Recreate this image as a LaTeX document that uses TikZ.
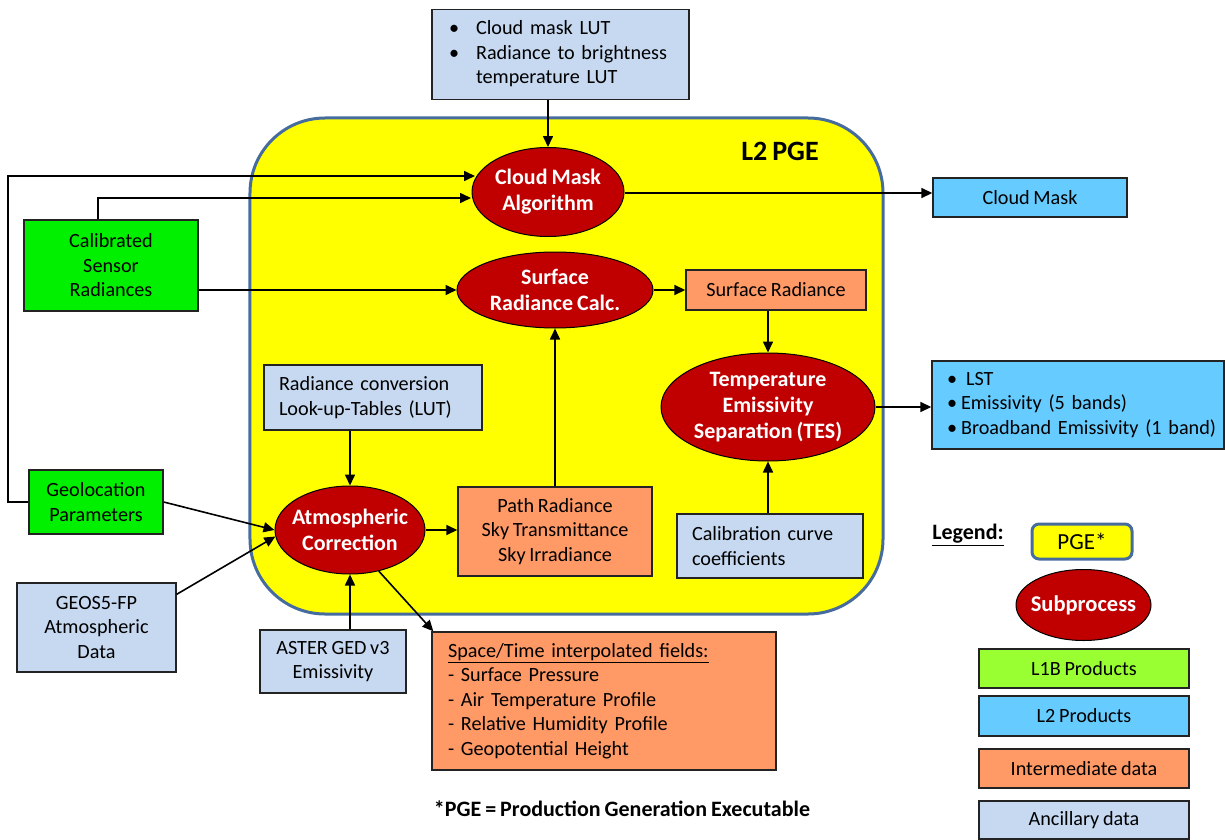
\documentclass[tikz,border=0pt]{standalone}
\usepackage{fontspec}
\setmainfont{Carlito}[WordSpace=0.8]
\usetikzlibrary{shapes.geometric,arrows.meta}
\definecolor{procred}{RGB}{192,0,0}
\definecolor{pgeyellow}{RGB}{255,255,0}
\definecolor{pgeblue}{RGB}{70,108,158}
\definecolor{lonegreen}{RGB}{0,240,0}
\definecolor{lgreen}{RGB}{153,255,51}
\definecolor{ltwocyan}{RGB}{102,204,255}
\definecolor{interorange}{RGB}{255,153,102}
\definecolor{ancblue}{RGB}{198,217,241}
\definecolor{boxline}{RGB}{35,35,35}
\newcommand\zb[1]{\makebox[0pt]{#1}}
\begin{document}
\begin{tikzpicture}[x=1bp,y=-1bp,
  font=\fontsize{20.2bp}{24.5bp}\selectfont,
  box/.style={draw=boxline, line width=1.4bp, inner sep=0pt, align=center},
  proc/.style={ellipse, draw=black, line width=1bp, fill=procred, text=white, inner sep=0pt, align=center, font=\fontsize{22bp}{26bp}\selectfont\bfseries},
  arr/.style={draw=black, line width=1.6bp, -{Triangle[length=11bp,width=10bp]}}
]
\useasboundingbox (0,0) rectangle (1225,840);

% PGE container
\node[draw=pgeblue, line width=3bp, fill=pgeyellow, rounded corners=75bp, minimum width=633bp, minimum height=496bp, inner sep=0pt] (pge) at (566.5,366) {};
\node[font=\fontsize{28bp}{32bp}\selectfont\bfseries] (pgeLabel) at (780,151) {L2 PGE};

% top LUT
\node[box, fill=ancblue, align=left, inner xsep=17bp, text width=223bp, minimum height=90bp] (lutTop) at (560.5,54.5)
  {\begin{tabular}{@{}l@{\hspace{17bp}}l@{}}\textbullet & Cloud mask LUT\\ \textbullet & Radiance to brightness\\ & temperature LUT\end{tabular}};

% subprocesses
\node[proc, minimum width=152bp, minimum height=89bp] (cm) at (548,192) {\zb{Cloud Mask}\\\zb{Algorithm}};
\node[proc, minimum width=196bp, minimum height=76bp] (srCalc) at (555,290) {\zb{Surface}\\\zb{Radiance Calc.}};
\node[proc, minimum width=150bp, minimum height=88bp] (atm) at (350,530) {\zb{Atmospheric}\\\zb{Correction}};
\node[proc, minimum width=214bp, minimum height=108bp] (tes) at (768,407) {\zb{Temperature}\\\zb{Emissivity}\\\zb{Separation (TES)}};

% data boxes
\node[box, fill=interorange, minimum width=180bp, minimum height=40bp] (srBox) at (776,290) {Surface Radiance};
\node[box, fill=interorange, minimum width=194bp, minimum height=89bp] (path) at (555,531.5) {Path Radiance\\Sky Transmittance\\Sky Irradiance};
\node[box, fill=ancblue, align=left, inner xsep=15bp, text width=188bp, minimum height=65bp] (radLUT) at (373,397.5) {Radiance conversion\\Look-up-Tables (LUT)};
\node[box, fill=ancblue, align=left, inner xsep=15bp, text width=156bp, minimum height=64bp] (calib) at (770,546) {Calibration curve\\coefficients};
\node[box, fill=lonegreen, minimum width=174bp, minimum height=91bp] (calRad) at (111,265.5) {Calibrated\\Sensor\\Radiances};
\node[box, fill=lonegreen, minimum width=134bp, minimum height=64bp] (geo) at (96,502) {Geolocation\\Parameters};
\node[box, fill=ancblue, minimum width=159bp, minimum height=89bp] (geos5) at (96.5,627.5) {GEOS5-FP\\Atmospheric\\Data};
\node[box, fill=ancblue, minimum width=146bp, minimum height=63bp] (aster) at (333,661.5) {ASTER GED v3\\Emissivity};
\node[box, fill=interorange, align=left, inner xsep=16bp, text width=312bp, minimum height=138bp] (space) at (604,701)
  {\underline{Space/Time interpolated fields:}\\- Surface Pressure\\- Air Temperature Profile\\- Relative Humidity Profile\\- Geopotential Height};
\node[box, fill=ltwocyan, minimum width=194bp, minimum height=39bp] (cmOut) at (1030,197.5) {Cloud Mask};
\node[box, fill=ltwocyan, align=left, inner xsep=0pt, text width=292bp, minimum height=88bp] (lst) at (1078,405)
  {\hspace*{15bp}\textbullet\hspace{9bp}LST\\\hspace*{15bp}\textbullet\hspace{4bp}Emissivity (5 bands)\\\hspace*{15bp}\textbullet\hspace{4bp}Broadband Emissivity (1 band)};

% footnote
\node[font=\fontsize{22bp}{26bp}\selectfont\bfseries] (foot) at (622,809) {*PGE = Production Generation Executable};

% legend
\node[font=\fontsize{22bp}{26bp}\selectfont\bfseries] (legTitle) at (968,535) {\underline{Legend:}};
\node[draw=pgeblue, line width=3bp, fill=pgeyellow, rounded corners=7bp, minimum width=100bp, minimum height=35bp, inner sep=0pt, font=\fontsize{23bp}{27bp}\selectfont] (lgPGE) at (1082,541.5) {PGE*};
\node[proc, minimum width=135bp, minimum height=71bp, font=\fontsize{22.5bp}{26bp}\selectfont\bfseries] (lgSub) at (1083.5,605) {\zb{Subprocess}};
\node[box, fill=lgreen, minimum width=210bp, minimum height=39bp] (lgL1B) at (1084,668.5) {L1B Products};
\node[box, fill=ltwocyan, minimum width=210bp, minimum height=40bp] (lgL2) at (1084,716) {L2 Products};
\node[box, fill=interorange, minimum width=210bp, minimum height=39bp] (lgInt) at (1084,768.5) {Intermediate data};
\node[box, fill=ancblue, minimum width=210bp, minimum height=38bp] (lgAnc) at (1084,820) {Ancillary data};

% connector end points on the cloud mask ellipse
\coordinate (cmA) at (475,176);
\coordinate (cmB) at (471,198);

% connectors
\draw[arr] (cm.north |- lutTop.south) -- (cm.north);
\draw[arr] (geo.west) -- ++(-20bp,0) |- (cmA);
\draw[arr] ([xshift=-13bp]calRad.north) |- (cmB);
\draw[arr] (calRad.east |- srCalc.west) -- (srCalc.west);
\draw[arr] ([yshift=-1bp]cm.east) -- ([yshift=-1bp]cm.east -| cmOut.west);
\draw[arr] (srCalc.east) -- (srBox.west);
\draw[arr] (tes.north |- srBox.south) -- (tes.north);
\draw[arr] (tes.east) -- (tes.east -| lst.west);
\draw[arr] (calib.north -| tes.south) -- (tes.south);
\draw[arr] (path.north) -- (srCalc.south);
\draw[arr] (atm.north |- radLUT.south) -- (atm.north);
\draw[arr] (geo.east) -- (atm.west);
\draw[arr] ([yshift=-12bp]geos5.north east) -- (atm.185);
\draw[arr] (atm.south |- aster.north) -- (atm.south);
\draw[arr] (atm.east) -- (atm.east -| path.west);
\draw[arr] (atm.-55) -- ([xshift=2bp]space.north west);
\end{tikzpicture}
\end{document}
